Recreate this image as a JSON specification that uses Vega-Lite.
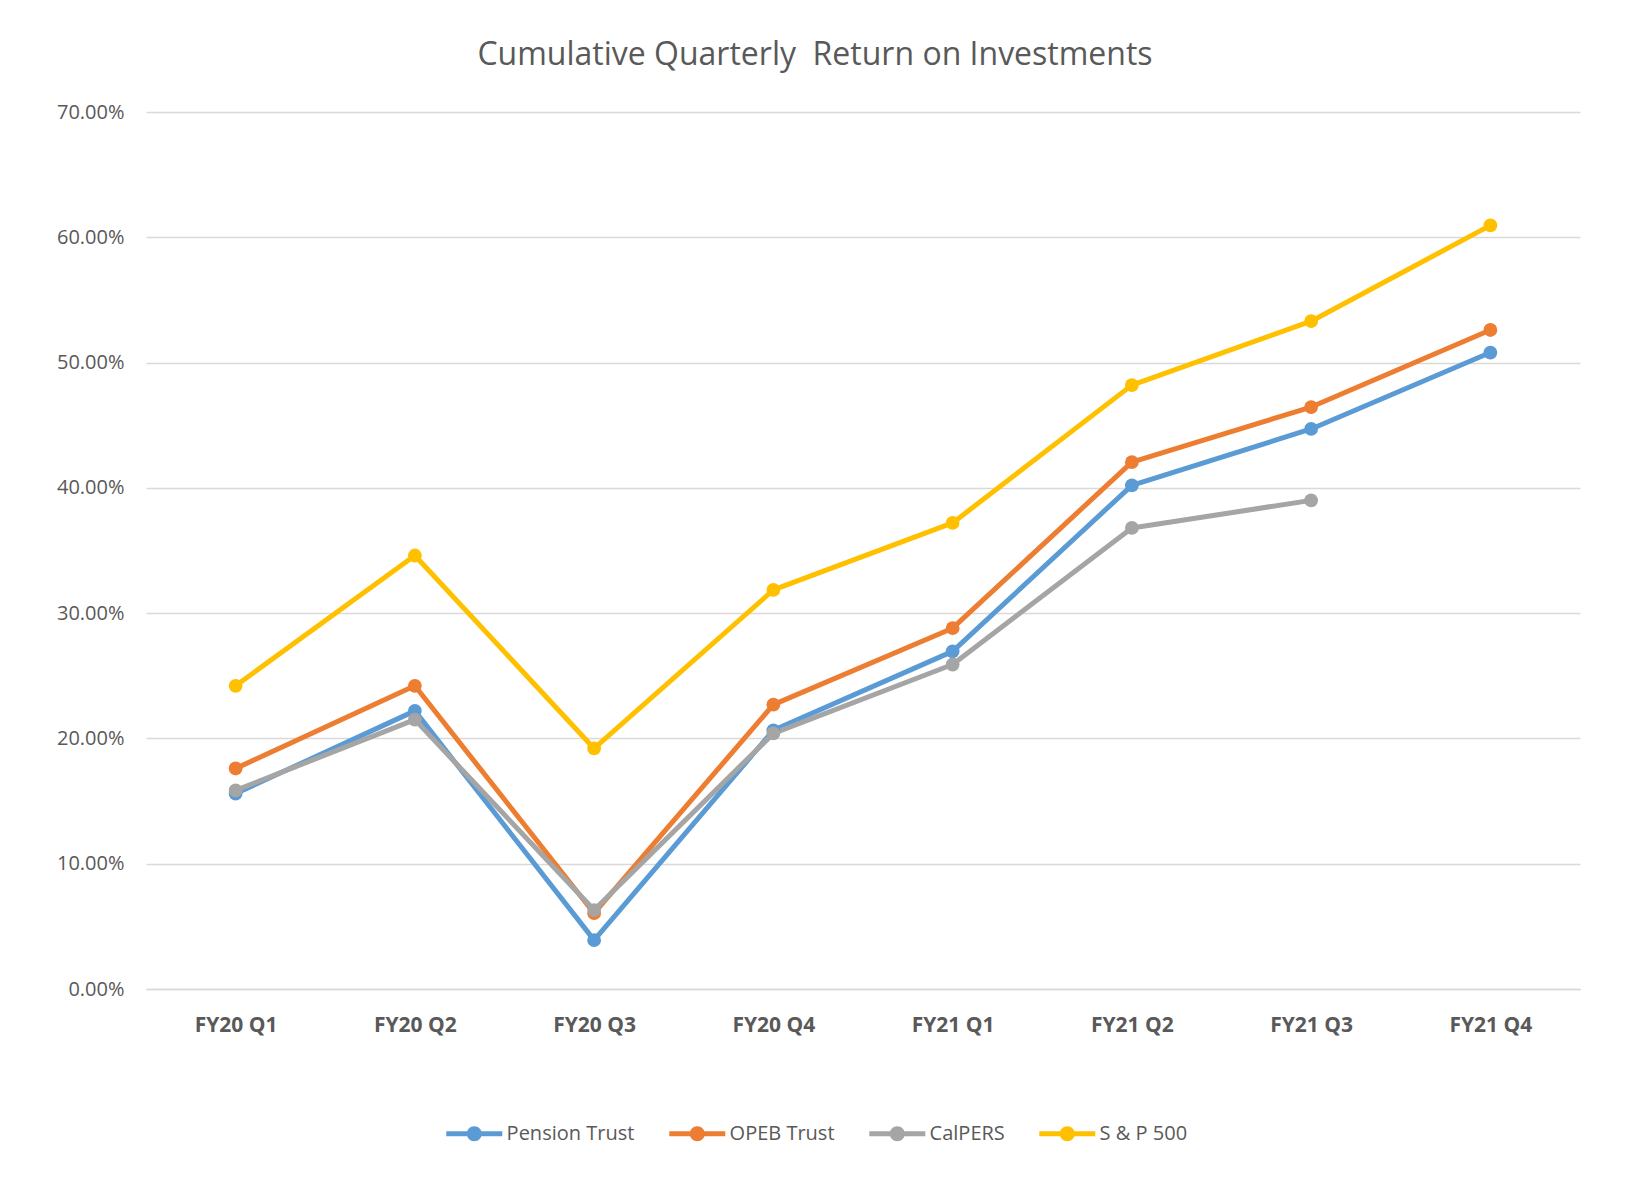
{
  "$schema": "https://vega.github.io/schema/vega-lite/v6.json",
  "autosize": "none",
  "width": 1434,
  "height": 877,
  "padding": {"left": 146, "top": 112, "right": 49, "bottom": 188},
  "background": "white",
  "config": {
    "view": {"stroke": null},
    "font": "Open Sans"
  },
  "title": {
    "text": "Cumulative Quarterly\u00a0 Return on Investments",
    "font": "Open Sans",
    "fontSize": 32,
    "fontWeight": "normal",
    "color": "#595959",
    "anchor": "middle",
    "baseline": "alphabetic",
    "offset": 5,
    "dx": -48
  },
  "data": {
    "values": [
      {"quarter": "FY20 Q1", "series": "Pension Trust", "value": 0.156},
      {"quarter": "FY20 Q2", "series": "Pension Trust", "value": 0.222},
      {"quarter": "FY20 Q3", "series": "Pension Trust", "value": 0.039},
      {"quarter": "FY20 Q4", "series": "Pension Trust", "value": 0.2065},
      {"quarter": "FY21 Q1", "series": "Pension Trust", "value": 0.2695},
      {"quarter": "FY21 Q2", "series": "Pension Trust", "value": 0.402},
      {"quarter": "FY21 Q3", "series": "Pension Trust", "value": 0.447},
      {"quarter": "FY21 Q4", "series": "Pension Trust", "value": 0.508},
      {"quarter": "FY20 Q1", "series": "OPEB Trust", "value": 0.176},
      {"quarter": "FY20 Q2", "series": "OPEB Trust", "value": 0.242},
      {"quarter": "FY20 Q3", "series": "OPEB Trust", "value": 0.0605},
      {"quarter": "FY20 Q4", "series": "OPEB Trust", "value": 0.227},
      {"quarter": "FY21 Q1", "series": "OPEB Trust", "value": 0.288},
      {"quarter": "FY21 Q2", "series": "OPEB Trust", "value": 0.4205},
      {"quarter": "FY21 Q3", "series": "OPEB Trust", "value": 0.4645},
      {"quarter": "FY21 Q4", "series": "OPEB Trust", "value": 0.526},
      {"quarter": "FY20 Q1", "series": "CalPERS", "value": 0.1585},
      {"quarter": "FY20 Q2", "series": "CalPERS", "value": 0.215},
      {"quarter": "FY20 Q3", "series": "CalPERS", "value": 0.063},
      {"quarter": "FY20 Q4", "series": "CalPERS", "value": 0.204},
      {"quarter": "FY21 Q1", "series": "CalPERS", "value": 0.259},
      {"quarter": "FY21 Q2", "series": "CalPERS", "value": 0.368},
      {"quarter": "FY21 Q3", "series": "CalPERS", "value": 0.39},
      {"quarter": "FY20 Q1", "series": "S & P 500", "value": 0.242},
      {"quarter": "FY20 Q2", "series": "S & P 500", "value": 0.346},
      {"quarter": "FY20 Q3", "series": "S & P 500", "value": 0.192},
      {"quarter": "FY20 Q4", "series": "S & P 500", "value": 0.3185},
      {"quarter": "FY21 Q1", "series": "S & P 500", "value": 0.372},
      {"quarter": "FY21 Q2", "series": "S & P 500", "value": 0.482},
      {"quarter": "FY21 Q3", "series": "S & P 500", "value": 0.533},
      {"quarter": "FY21 Q4", "series": "S & P 500", "value": 0.6095}
    ]
  },
  "mark": {
    "type": "line",
    "strokeWidth": 5,
    "strokeJoin": "round",
    "strokeCap": "round",
    "point": {"filled": true, "size": 190, "opacity": 1}
  },
  "encoding": {
    "x": {
      "field": "quarter",
      "type": "nominal",
      "sort": ["FY20 Q1", "FY20 Q2", "FY20 Q3", "FY20 Q4", "FY21 Q1", "FY21 Q2", "FY21 Q3", "FY21 Q4"],
      "scale": {"type": "point", "padding": 0.5},
      "axis": {
        "title": null,
        "labelAngle": 0,
        "labelFont": "Open Sans",
        "labelFontSize": 21,
        "labelFontWeight": "bold",
        "labelColor": "#595959",
        "labelPadding": 25,
        "ticks": false,
        "domain": true,
        "domainColor": "#D9D9D9",
        "domainWidth": 1.5,
        "grid": false
      }
    },
    "y": {
      "field": "value",
      "type": "quantitative",
      "scale": {"domain": [0, 0.7], "nice": false, "zero": true},
      "axis": {
        "title": null,
        "values": [0, 0.1, 0.2, 0.3, 0.4, 0.5, 0.6, 0.7],
        "format": ".2%",
        "labelFont": "Open Sans",
        "labelFontSize": 20,
        "labelColor": "#595959",
        "labelPadding": 22,
        "ticks": false,
        "domain": false,
        "grid": true,
        "gridColor": "#D9D9D9",
        "gridWidth": 1.5
      }
    },
    "color": {
      "field": "series",
      "type": "nominal",
      "sort": ["Pension Trust", "OPEB Trust", "CalPERS", "S & P 500"],
      "scale": {
        "domain": ["Pension Trust", "OPEB Trust", "CalPERS", "S & P 500"],
        "range": ["#5B9BD5", "#ED7D31", "#A5A5A5", "#FFC000"]
      },
      "legend": {
        "title": null,
        "orient": "none",
        "legendX": 300,
        "legendY": 1010,
        "direction": "horizontal",
        "columns": 4,
        "columnPadding": 34,
        "symbolType": "M-1,-0.22H4V0.22H-1Z M0.83,0A0.67,0.67 0 1,1 2.17,0A0.67,0.67 0 1,1 0.83,0Z",
        "symbolSize": 502,
        "symbolStrokeWidth": 0,
        "labelOffset": 37.6,
        "labelFont": "Open Sans",
        "labelFontSize": 20,
        "labelColor": "#595959",
        "encode": {
          "symbols": {
            "update": {
              "fill": {"scale": "color", "field": "value"},
              "strokeWidth": {"value": 0},
              "opacity": {"value": 1}
            }
          }
        }
      }
    }
  }
}
